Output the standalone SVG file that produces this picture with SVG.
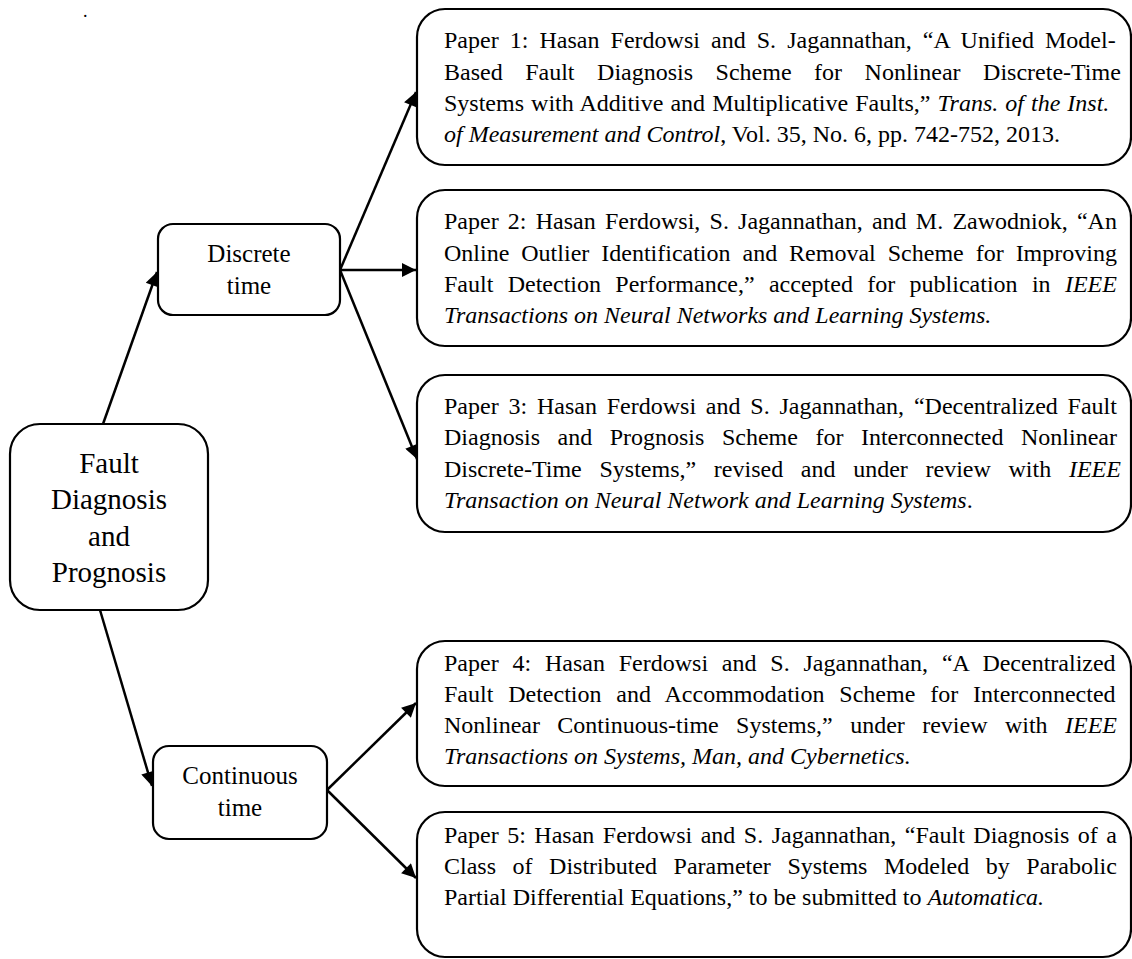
<svg xmlns="http://www.w3.org/2000/svg" width="1132" height="959" viewBox="0 0 1132 959">
  <style>
    .box { fill: #fff; stroke: #000; stroke-width: 2.2; }
    .edge { fill: none; stroke: #000; stroke-width: 2.5; }
    .t { font-family: "Liberation Serif", "Times New Roman", serif; fill: #000; }
    .ref { font-size: 24px; }
    .lbl { font-size: 25px; text-anchor: middle; }
    .root { font-size: 29px; text-anchor: middle; }
    .it { font-style: italic; }
  </style>
  <defs>
    <marker id="arrow" viewBox="0 0 10 10" refX="10" refY="5" markerUnits="userSpaceOnUse" markerWidth="17" markerHeight="14" orient="auto">
      <path d="M0,0 L10,5 L0,10 z" fill="#000"/>
    </marker>
  </defs>

  <rect width="1132" height="959" fill="#fff"/>
  <text class="t" font-size="18" x="83" y="17">.</text>

  <!-- connectors -->
  <g id="connectors">
    <line class="edge" x1="103" y1="424" x2="157" y2="272" marker-end="url(#arrow)"/>
    <line class="edge" x1="100" y1="610" x2="152" y2="786" marker-end="url(#arrow)"/>
    <line class="edge" x1="340" y1="270" x2="416" y2="92" marker-end="url(#arrow)"/>
    <line class="edge" x1="340" y1="270" x2="416" y2="270" marker-end="url(#arrow)"/>
    <line class="edge" x1="340" y1="270" x2="417" y2="459" marker-end="url(#arrow)"/>
    <line class="edge" x1="327" y1="790" x2="416" y2="703" marker-end="url(#arrow)"/>
    <line class="edge" x1="327" y1="790" x2="416" y2="878" marker-end="url(#arrow)"/>
  </g>

  <!-- root topic -->
  <g id="root">
    <rect class="box" x="10" y="424" width="198" height="186" rx="30"/>
    <text class="t root" x="109" y="473">Fault</text>
    <text class="t root" x="109" y="509">Diagnosis</text>
    <text class="t root" x="109" y="546">and</text>
    <text class="t root" x="109" y="582">Prognosis</text>
  </g>

  <g id="discrete">
    <rect class="box" x="158" y="224" width="182" height="91" rx="15"/>
    <text class="t lbl" x="249" y="262">Discrete</text>
    <text class="t lbl" x="249" y="294">time</text>
  </g>

  <g id="continuous">
    <rect class="box" x="153" y="746" width="174" height="93" rx="16"/>
    <text class="t lbl" x="240" y="784">Continuous</text>
    <text class="t lbl" x="240" y="816">time</text>
  </g>

  <!-- publications -->
  <g id="paper1">
    <rect class="box" x="417" y="9" width="714" height="156" rx="28"/>
    <text class="t ref" x="444" y="48" word-spacing="5.09">Paper 1: Hasan Ferdowsi and S. Jagannathan, “A Unified Model-</text>
    <text class="t ref" x="444" y="80" word-spacing="16.53">Based Fault Diagnosis Scheme for Nonlinear Discrete-Time</text>
    <text class="t ref" x="444" y="111" word-spacing="1.04">Systems with Additive and Multiplicative Faults,” <tspan class="it">Trans. of the Inst.</tspan></text>
    <text class="t ref" x="444" y="142"><tspan class="it">of Measurement and Control</tspan>, Vol. 35, No. 6, pp. 742-752, 2013.</text>
  </g>

  <g id="paper2">
    <rect class="box" x="417" y="190" width="714" height="156" rx="28"/>
    <text class="t ref" x="444" y="229" word-spacing="3.23">Paper 2: Hasan Ferdowsi, S. Jagannathan, and M. Zawodniok, “An</text>
    <text class="t ref" x="444" y="261" word-spacing="5.97">Online Outlier Identification and Removal Scheme for Improving</text>
    <text class="t ref" x="444" y="292" word-spacing="8.36">Fault Detection Performance,” accepted for publication in <tspan class="it">IEEE</tspan></text>
    <text class="t ref it" x="444" y="323">Transactions on Neural Networks and Learning Systems.</text>
  </g>

  <g id="paper3">
    <rect class="box" x="417" y="375" width="714" height="157" rx="28"/>
    <text class="t ref" x="444" y="414" word-spacing="3.81">Paper 3: Hasan Ferdowsi and S. Jagannathan, “Decentralized Fault</text>
    <text class="t ref" x="444" y="445" word-spacing="11.52">Diagnosis and Prognosis Scheme for Interconnected Nonlinear</text>
    <text class="t ref" x="444" y="477" word-spacing="11.7">Discrete-Time Systems,” revised and under review with <tspan class="it">IEEE</tspan></text>
    <text class="t ref" x="444" y="508"><tspan class="it">Transaction on Neural Network and Learning Systems</tspan>.</text>
  </g>

  <g id="paper4">
    <rect class="box" x="417" y="641" width="714" height="145" rx="28"/>
    <text class="t ref" x="444" y="671" word-spacing="7.81">Paper 4: Hasan Ferdowsi and S. Jagannathan, “A Decentralized</text>
    <text class="t ref" x="444" y="702" word-spacing="8.85">Fault Detection and Accommodation Scheme for Interconnected</text>
    <text class="t ref" x="444" y="733" word-spacing="11.4">Nonlinear Continuous-time Systems,” under review with <tspan class="it">IEEE</tspan></text>
    <text class="t ref it" x="444" y="764">Transactions on Systems, Man, and Cybernetics.</text>
  </g>

  <g id="paper5">
    <rect class="box" x="417" y="812" width="714" height="145" rx="28"/>
    <text class="t ref" x="444" y="843" word-spacing="2.51">Paper 5: Hasan Ferdowsi and S. Jagannathan, “Fault Diagnosis of a</text>
    <text class="t ref" x="444" y="874" word-spacing="10.53">Class of Distributed Parameter Systems Modeled by Parabolic</text>
    <text class="t ref" x="444" y="905">Partial Differential Equations,” to be submitted to <tspan class="it">Automatica.</tspan></text>
  </g>
</svg>
